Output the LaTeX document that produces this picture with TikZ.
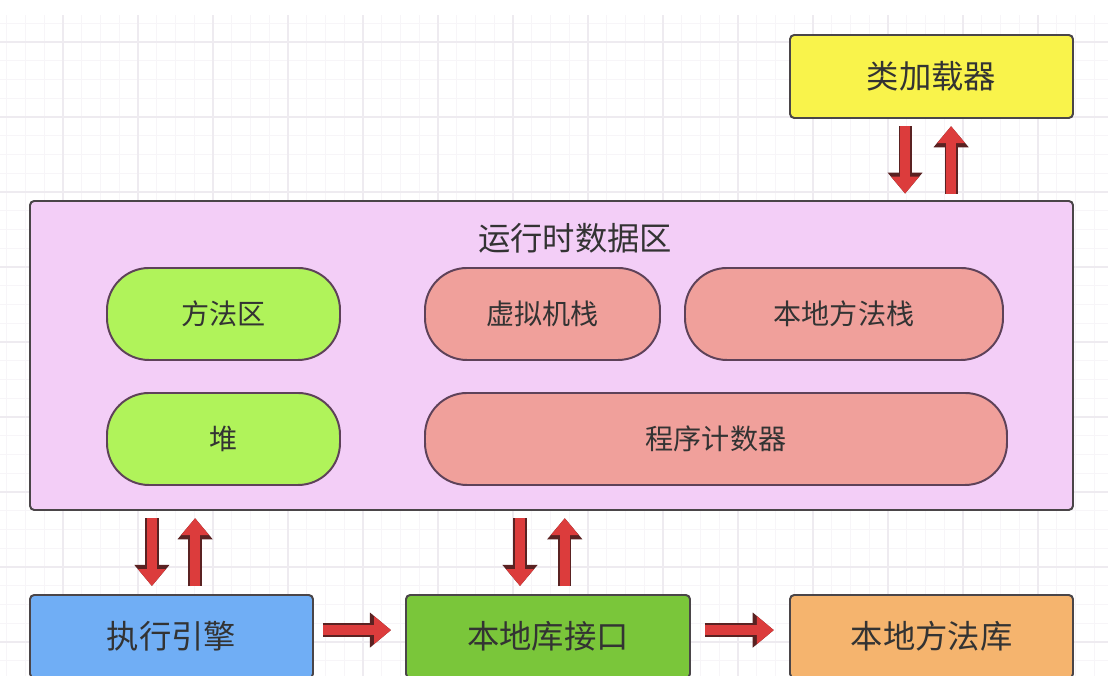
\documentclass[tikz,border=0pt]{standalone}
\usepackage{fontspec}
\setmainfont{Noto Sans CJK SC}
\usepackage[HTML]{xcolor}
\usetikzlibrary{positioning, arrows.meta}

\definecolor{gridminor}{HTML}{F7F5F8}
\definecolor{gridmajor}{HTML}{EEEBF0}
\definecolor{boxline}{HTML}{4A4548}
\definecolor{pillline}{HTML}{5E4259}
\definecolor{txt}{HTML}{333333}
\definecolor{loaderfill}{HTML}{F9F34B}
\definecolor{rtdafill}{HTML}{F3CEF7}
\definecolor{limefill}{HTML}{B0F35A}
\definecolor{salmonfill}{HTML}{F0A09B}
\definecolor{enginefill}{HTML}{70AEF5}
\definecolor{ifacefill}{HTML}{7AC63A}
\definecolor{libfill}{HTML}{F5B46E}
\definecolor{arrowred}{HTML}{DC3C3C}
\definecolor{arrowline}{HTML}{5A2222}

\begin{document}
\begin{tikzpicture}[
  box/.style={draw=boxline, line width=1.4pt, rounded corners=3pt,
    minimum width=7.075cm, minimum height=2.075cm, text=txt,
    font=\fontsize{23}{27}\selectfont},
  pill/.style={draw=pillline, line width=1.4pt, rounded corners=1.05cm,
    minimum height=2.3cm, text=txt, font=\fontsize{20}{24}\selectfont},
  fatarrow/.style={draw=arrowred, line width=6.8pt,
    -{Triangle[length=12pt,width=19pt]},
    preaction={draw=arrowline, line width=9.4pt,
      -{Triangle[length=15pt,width=24pt]}}}
]
\useasboundingbox (0,0) rectangle (27.7,16.9);
\clip (0,0) rectangle (27.7,16.9);
\fill[white] (0,0) rectangle (27.7,16.9);
% background grid
\foreach \i in {-3,...,56}
  \draw[gridminor, line width=0.6pt] ({1.575+0.46875*\i},0) -- ++(0,16.525);
\foreach \j in {-1,...,34}
  \draw[gridminor, line width=0.6pt] (0,{15.85-0.46875*\j}) -- ++(27.7,0);
\foreach \i in {0,...,14}
  \draw[gridmajor, line width=0.8pt] ({1.575+1.875*\i},0) -- ++(0,16.525);
\foreach \j in {0,...,8}
  \draw[gridmajor, line width=0.8pt] (0,{15.85-1.875*\j}) -- ++(27.7,0);
% class loader
\node[box, fill=loaderfill] (loader) at (23.2875,14.9875) {类加载器};
% runtime data area
\node[draw=boxline, line width=1.4pt, rounded corners=3pt, fill=rtdafill,
  minimum width=26.075cm, minimum height=7.725cm] (rtda) at (13.7875,8.0125) {};
\node[text=txt, font=\fontsize{23}{27}\selectfont] (title) at (14.375,10.95) {运行时数据区};
\node[pill, fill=limefill, minimum width=5.825cm] (method) at (5.5875,9.05) {方法区};
\node[pill, fill=salmonfill, minimum width=5.875cm] (vmstack) at (13.5625,9.05) {虚拟机栈};
\node[pill, fill=salmonfill, minimum width=7.95cm] (nstack) at (21.1,9.05) {本地方法栈};
\node[pill, fill=limefill, minimum width=5.825cm] (heap) at (5.5875,5.925) {堆};
\node[pill, fill=salmonfill, minimum width=14.55cm] (pc) at (17.9,5.925) {程序计数器};
% bottom row
\node[box, fill=enginefill] (engine) at (4.2875,0.9875) {执行引擎};
\node[box, fill=ifacefill, minimum width=7.1cm] (iface) at (13.7,0.9875) {本地库接口};
\node[box, fill=libfill] (nlib) at (23.2875,0.9875) {本地方法库};
% arrows
\draw[fatarrow] ([xshift=-0.66cm,yshift=-0.18cm]loader.south)
  -- ([xshift=-0.66cm,yshift=0.16cm]loader.south |- rtda.north);
\draw[fatarrow] ([xshift=0.49cm,yshift=0.16cm]loader.south |- rtda.north)
  -- ([xshift=0.49cm,yshift=-0.18cm]loader.south);
\draw[fatarrow] ([xshift=-0.49cm,yshift=-0.18cm]engine.north |- rtda.south)
  -- ([xshift=-0.49cm,yshift=0.2cm]engine.north);
\draw[fatarrow] ([xshift=0.59cm,yshift=0.2cm]engine.north)
  -- ([xshift=0.59cm,yshift=-0.18cm]engine.north |- rtda.south);
\draw[fatarrow] ([xshift=-0.7cm,yshift=-0.18cm]iface.north |- rtda.south)
  -- ([xshift=-0.7cm,yshift=0.2cm]iface.north);
\draw[fatarrow] ([xshift=0.42cm,yshift=0.2cm]iface.north)
  -- ([xshift=0.42cm,yshift=-0.18cm]iface.north |- rtda.south);
\draw[fatarrow] ([xshift=0.22cm,yshift=0.16cm]engine.east)
  -- ([xshift=-0.35cm,yshift=0.16cm]iface.west);
\draw[fatarrow] ([xshift=0.35cm,yshift=0.16cm]iface.east)
  -- ([xshift=-0.38cm,yshift=0.16cm]nlib.west);
\end{tikzpicture}
\end{document}
